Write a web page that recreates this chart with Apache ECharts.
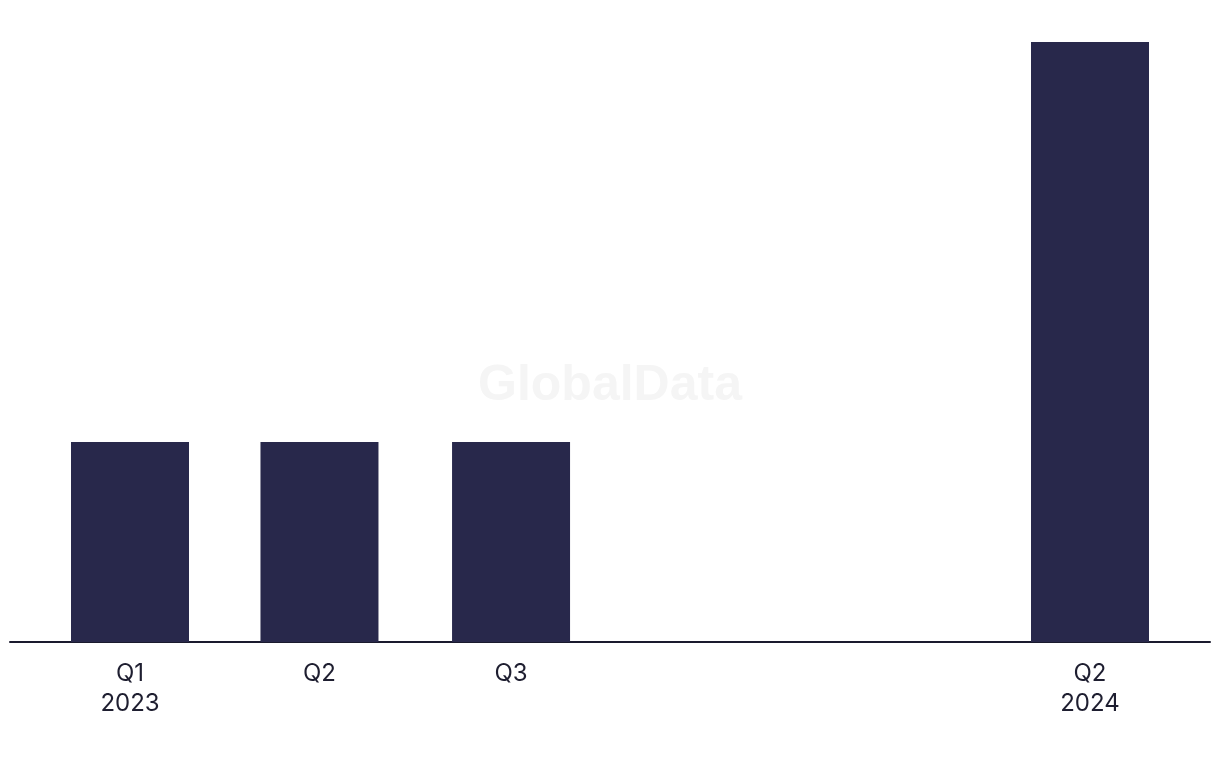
<!DOCTYPE html>
<html>
<head>
<meta charset="utf-8">
<script src="https://cdn.jsdelivr.net/npm/echarts@6/dist/echarts.min.js"></script>
<style>
  html, body { margin: 0; padding: 0; background: #fff; }
  #chart { width: 1220px; height: 768px; }
</style>
</head>
<body>
<div id="chart"></div>
<script>
// quarter start dates, their tick labels and the deal counts
const quarterDates = ['2023-01-01', '2023-04-01', '2023-07-01', '2024-04-01'];
const quarterLabels = ['Q1\n2023', 'Q2', 'Q3', 'Q2\n2024'];
const dealCounts = [1, 1, 1, 3];

const axisMin = '2022-11-05';
const axisMax = '2024-05-28';

// dates as day numbers so a plain value axis spaces the quarters by their real length
const toDay = (d) => Math.round(new Date(d).getTime() / 86400000);
const days = quarterDates.map(toDay);
const labelByDay = {};
days.forEach((d, i) => { labelByDay[d] = quarterLabels[i]; });

const chart = echarts.init(document.getElementById('chart'));

chart.setOption({
  backgroundColor: '#ffffff',
  animation: false,
  graphic: [{
    type: 'text',
    left: 'center',
    top: 361,
    style: {
      text: 'GlobalData',
      font: 'bold 50px "Liberation Sans", Arial, sans-serif',
      fill: '#f5f5f5'
    },
    z: -1
  }],
  grid: { left: 10, right: 10, top: 42, bottom: 126, containLabel: false },
  xAxis: {
    type: 'value',
    min: toDay(axisMin),
    max: toDay(axisMax),
    axisLine: { show: true, lineStyle: { color: '#1a1a2e', width: 2 } },
    axisTick: { show: false },
    splitLine: { show: false },
    axisLabel: {
      customValues: days,
      formatter: (v) => labelByDay[v] || '',
      color: '#1e1e30',
      fontFamily: 'Inter, "Liberation Sans", sans-serif',
      fontSize: 24,
      lineHeight: 30,
      margin: 17,
      showMinLabel: true,
      showMaxLabel: true,
      hideOverlap: false
    }
  },
  yAxis: {
    type: 'value',
    min: 0,
    max: 3,
    show: false,
    splitLine: { show: false }
  },
  series: [{
    type: 'bar',
    barWidth: 118,
    data: days.map((d, i) => [d, dealCounts[i]]),
    itemStyle: { color: '#28284b' }
  }]
});
</script>
</body>
</html>
